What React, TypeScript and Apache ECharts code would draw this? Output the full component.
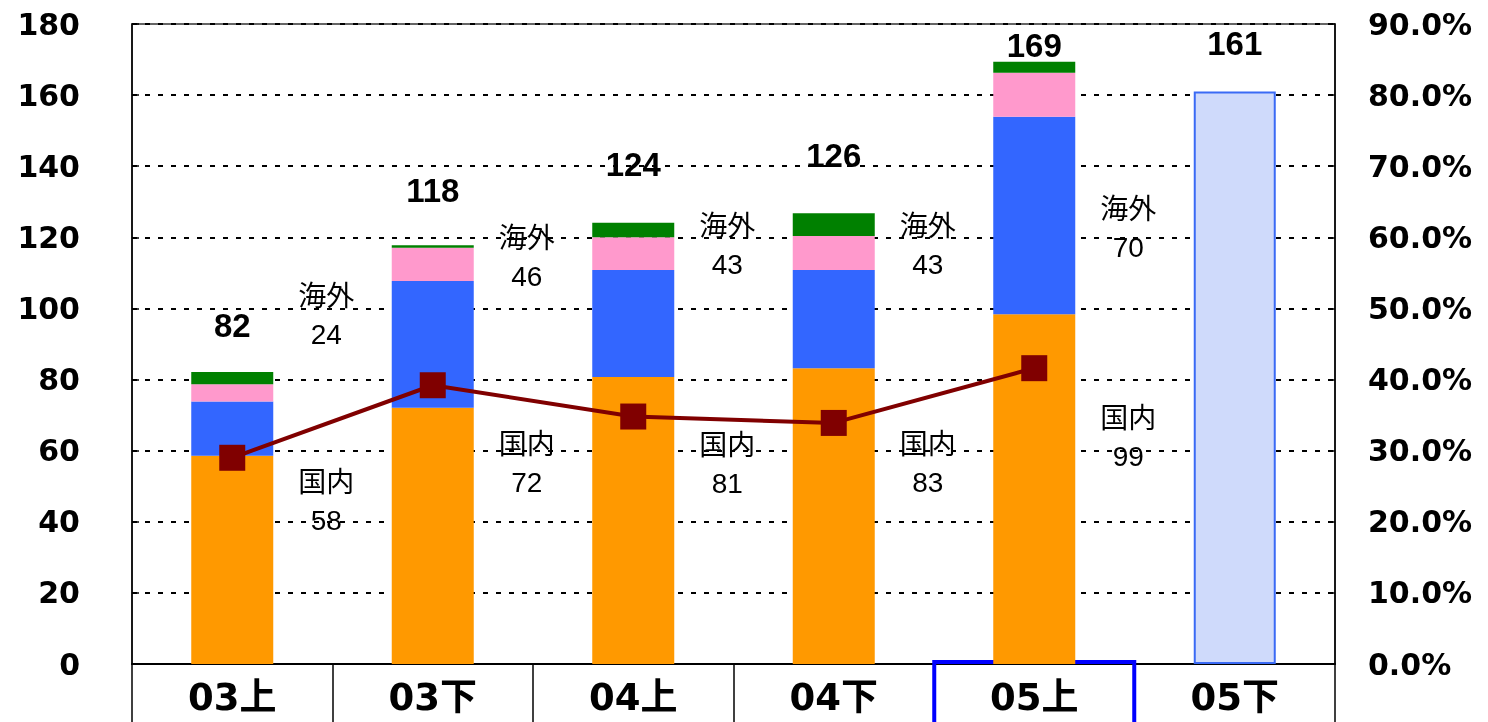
import React, { useEffect, useRef } from "react";
import * as echarts from "echarts";

const categories = ["03上", "03下", "04上", "04下", "05上", "05下"];
const domestic = [58.6, 72.1, 80.7, 83.2, 98.4, null];
const overseasMain = [15.2, 35.6, 30.1, 27.6, 55.5, null];
const overseasSub = [4.9, 9.4, 9.2, 9.6, 12.4, null];
const otherPart = [3.4, 0.7, 4.1, 6.4, 3.1, null];
const forecast = [null, null, null, null, null, 161];
const overseasRatio = [29.0, 39.2, 34.8, 33.9, 41.6, null];

const totals = [82, 118, 124, 126, 169, 161];
const totalLabelY = [95.1, 133.3, 140.6, 142.9, 174.0, 174.6];
const domesticLabels = [58, 72, 81, 83, 99];
const domesticLabelY = [45.6, 56.5, 56.0, 56.5, 63.6];
const overseasLabels = [24, 46, 43, 43, 70];
const overseasLabelY = [97.9, 114.2, 117.8, 117.8, 122.6];

const leftMax = 180;
const leftStep = 20;
const rightMax = 90;
const rightStep = 10;
const highlightIndex = 4;

const AXIS_FONT = "'DejaVu Sans', 'Noto Sans CJK JP', sans-serif";
const LABEL_FONT = "'Liberation Sans', 'Noto Sans CJK JP', sans-serif";

export default function App() {
  const ref = useRef<HTMLDivElement>(null);

  useEffect(() => {
    if (!ref.current) return;
    const chart = echarts.init(ref.current, null, { renderer: "svg" });

    const catStyle = {
      width: 200,
      height: 70,
      lineHeight: 70,
      align: "center",
      verticalAlign: "middle",
      fontSize: 37,
      fontWeight: "bold",
      fontFamily: AXIS_FONT,
      color: "#000",
    };

    const textLabel = (prefix: string, values: number[]) => ({
      show: true,
      position: "inside",
      offset: [94, 0],
      fontSize: 28,
      lineHeight: 38,
      fontFamily: LABEL_FONT,
      color: "#000",
      textBorderWidth: 0,
      formatter: (p: any) => `${prefix}\n${values[p.dataIndex]}`,
    });

    chart.setOption({
      animation: false,
      grid: {
        left: 132,
        right: 153,
        top: 24,
        bottom: 58,
        outerBoundsMode: "none",
        containLabel: false,
        show: true,
        borderColor: "#333",
        borderWidth: 1.5,
        backgroundColor: "transparent",
      },
      xAxis: {
        type: "category",
        data: categories,
        axisLine: { show: true, lineStyle: { color: "#000", width: 2 } },
        axisTick: {
          show: true,
          interval: 0,
          alignWithLabel: false,
          length: 60,
          lineStyle: { color: "#000", width: 1.5 },
        },
        axisLabel: {
          interval: 0,
          margin: -2,
          formatter: (v: string, i: number) =>
            i === highlightIndex ? `{hl|${v}}` : `{n|${v}}`,
          rich: {
            n: { ...catStyle },
            hl: { ...catStyle, borderColor: "#0000ff", borderWidth: 4 },
          },
        },
      },
      yAxis: [
        {
          type: "value",
          min: 0,
          max: leftMax,
          interval: leftStep,
          axisLine: { show: true, lineStyle: { color: "#000", width: 1.5 } },
          axisTick: {
            show: true,
            inside: true,
            length: 7,
            lineStyle: { color: "#000", width: 1.5 },
          },
          axisLabel: {
            margin: 52,
            fontSize: 30,
            fontWeight: "bold",
            fontFamily: AXIS_FONT,
            color: "#000",
          },
          splitLine: {
            show: true,
            lineStyle: { color: "#000", width: 2, type: [5, 8] },
          },
        },
        {
          type: "value",
          min: 0,
          max: rightMax,
          interval: rightStep,
          position: "right",
          axisLine: { show: true, lineStyle: { color: "#000", width: 1.5 } },
          axisTick: {
            show: true,
            inside: true,
            length: 6,
            lineStyle: { color: "#000", width: 1.5 },
          },
          axisLabel: {
            margin: 33,
            fontSize: 30,
            fontWeight: "bold",
            fontFamily: AXIS_FONT,
            color: "#000",
            formatter: (v: number) => `${v.toFixed(1)}%`,
          },
          splitLine: { show: false },
        },
      ],
      series: [
        {
          name: "国内",
          type: "bar",
          stack: "total",
          barWidth: 82,
          data: domestic,
          itemStyle: { color: "#ff9900" },
        },
        {
          name: "海外",
          type: "bar",
          stack: "total",
          data: overseasMain,
          itemStyle: { color: "#3366ff" },
        },
        {
          name: "海外2",
          type: "bar",
          stack: "total",
          data: overseasSub,
          itemStyle: { color: "#ff99cc" },
        },
        {
          name: "その他",
          type: "bar",
          stack: "total",
          data: otherPart,
          itemStyle: { color: "#008000" },
        },
        {
          name: "見通し",
          type: "bar",
          stack: "total",
          data: forecast,
          itemStyle: {
            color: "#cfdafb",
            borderColor: "#3a6af5",
            borderWidth: 2,
          },
        },
        {
          name: "海外比率",
          type: "line",
          yAxisIndex: 1,
          data: overseasRatio,
          symbol: "rect",
          symbolSize: 26,
          itemStyle: { color: "#800000" },
          lineStyle: { color: "#800000", width: 4 },
          z: 5,
        },
        {
          name: "合計ラベル",
          type: "scatter",
          symbolSize: 0,
          itemStyle: { opacity: 1 },
          data: totalLabelY.map((y, i) => [i, y]),
          label: {
            show: true,
            position: "inside",
            fontSize: 33,
            fontWeight: "bold",
            fontFamily: LABEL_FONT,
            color: "#000",
            textBorderWidth: 0,
            formatter: (p: any) => `${totals[p.dataIndex]}`,
          },
          z: 6,
        },
        {
          name: "海外ラベル",
          type: "scatter",
          symbolSize: 0,
          itemStyle: { opacity: 1 },
          data: overseasLabelY.map((y, i) => [i, y]),
          label: textLabel("海外", overseasLabels),
          z: 6,
        },
        {
          name: "国内ラベル",
          type: "scatter",
          symbolSize: 0,
          itemStyle: { opacity: 1 },
          data: domesticLabelY.map((y, i) => [i, y]),
          label: textLabel("国内", domesticLabels),
          z: 6,
        },
      ],
    });

    return () => chart.dispose();
  }, []);

  return (
    <div
      ref={ref}
      style={{ position: "fixed", left: 0, top: 0, width: 1488, height: 722 }}
    />
  );
}
